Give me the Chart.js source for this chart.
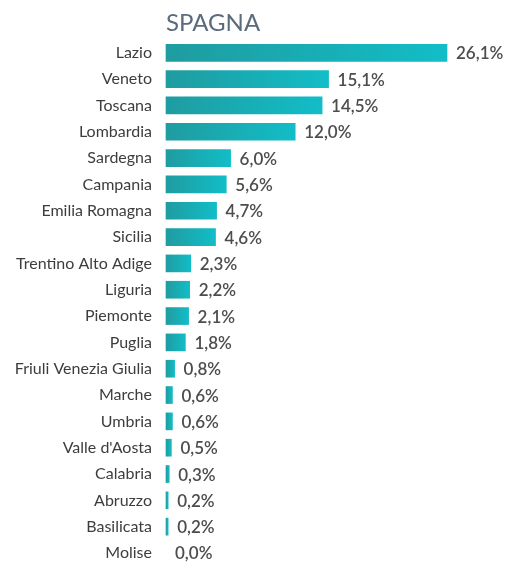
<!DOCTYPE html>
<html>
<head>
<meta charset="utf-8">
<script src="https://cdn.jsdelivr.net/npm/chart.js@4.4.1/dist/chart.umd.min.js"></script>
<style>
html,body{margin:0;padding:0;background:#fff;overflow:hidden;}
#wrap{width:509px;height:562px;position:relative;}
</style>
</head>
<body>
<div id="wrap"><canvas id="c" width="509" height="562"></canvas></div>
<script>
const titleText = "SPAGNA";
const categories = ["Lazio","Veneto","Toscana","Lombardia","Sardegna","Campania","Emilia Romagna","Sicilia","Trentino Alto Adige","Liguria","Piemonte","Puglia","Friuli Venezia Giulia","Marche","Umbria","Valle d'Aosta","Calabria","Abruzzo","Basilicata","Molise"];
const values = [26.1,15.1,14.5,12.0,6.0,5.6,4.7,4.6,2.3,2.2,2.1,1.8,0.8,0.6,0.6,0.5,0.3,0.2,0.2,0.0];

function fmt(v){ return v.toFixed(1).replace('.', ',') + '%'; }

const valueLabels = {
  id: 'valueLabels',
  afterDatasetsDraw(chart){
    const ctx = chart.ctx;
    const meta = chart.getDatasetMeta(0);
    ctx.save();
    ctx.font = '600 17px Lato, "Open Sans", sans-serif';
    ctx.fillStyle = '#4d4d4d';
    ctx.textAlign = 'left';
    ctx.textBaseline = 'middle';
    meta.data.forEach((bar, i) => {
      ctx.fillText(fmt(values[i]), bar.x + 9, bar.y + 1);
    });
    ctx.restore();
  }
};

new Chart(document.getElementById('c'), {
  type: 'bar',
  data: {
    labels: categories,
    datasets: [{
      data: values,
      barThickness: 17,
      clip: false,
      backgroundColor(ctx){
        const chart = ctx.chart;
        if (!ctx.raw) return 'rgba(0,0,0,0)';
        if (!chart.chartArea) return '#19aeb5';
        const xs = chart.scales.x;
        const x0 = xs.getPixelForValue(0);
        const x1 = xs.getPixelForValue(ctx.raw);
        if (x1 - x0 < 2) return '#19adb4';
        const g = chart.ctx.createLinearGradient(x0, 0, x1, 0);
        g.addColorStop(0, '#1f9ca0');
        g.addColorStop(1, '#12bdc7');
        return g;
      }
    }]
  },
  options: {
    responsive: false,
    animation: false,
    indexAxis: 'y',
    layout: { padding: { top: 0, right: 20, bottom: 9, left: 0 } },
    plugins: {
      legend: { display: false },
      tooltip: { enabled: false },
      title: {
        display: true,
        text: titleText,
        align: 'start',
        fullSize: false,
        color: '#5a6b7c',
        font: { family: 'Lato, "Open Sans", sans-serif', size: 24, weight: '400', lineHeight: 1.2 },
        padding: { top: 9, bottom: 15 }
      }
    },
    scales: {
      x: {
        display: false,
        min: 0,
        max: 30
      },
      y: {
        offset: false,
        grid: { display: false, drawTicks: false },
        border: { display: false },
        ticks: {
          padding: 14,
          color: '#3d3d3d',
          autoSkip: false,
          font: { family: 'Lato, "Open Sans", sans-serif', size: 16 }
        },
        afterFit(scale){ scale.width = 166; scale.paddingTop = 0; scale.paddingBottom = 0; }
      }
    }
  },
  plugins: [valueLabels]
});
</script>
</body>
</html>
